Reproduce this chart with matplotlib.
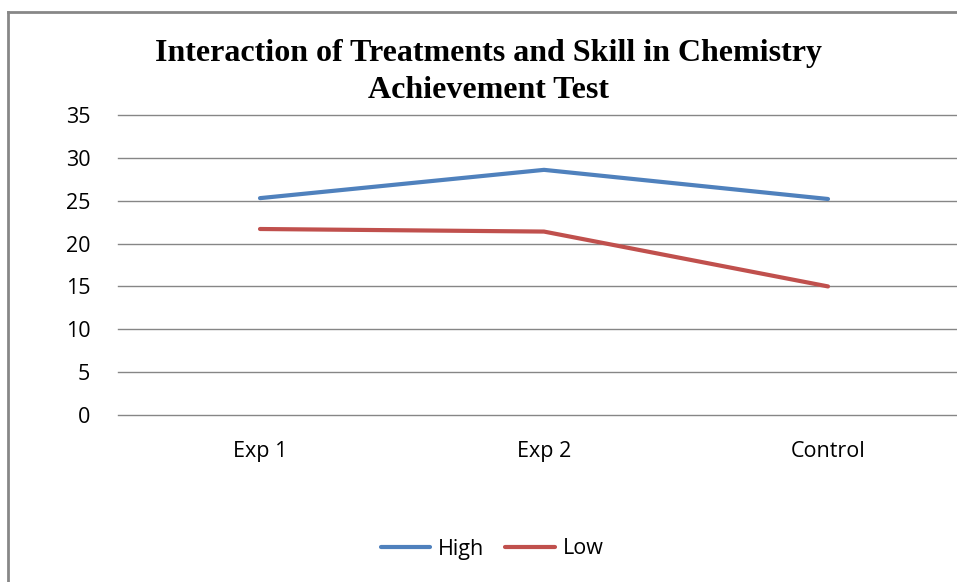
import matplotlib
matplotlib.use("Agg")
import matplotlib.pyplot as plt
from matplotlib.lines import Line2D

categories = ["Exp 1", "Exp 2", "Control"]
high = [25.3, 28.6, 25.2]
low = [21.7, 21.4, 15.0]
yticks = [0, 5, 10, 15, 20, 25, 30, 35]

fig = plt.figure(figsize=(9.57, 5.82), dpi=100)
ax = fig.add_axes([118/957, 1-415/582, 1-118/957, 300/582])

x = list(range(len(categories)))
ax.plot(x, high, color="#4F81BD", lw=3, solid_capstyle="round", label="High")
ax.plot(x, low, color="#C0504D", lw=3, solid_capstyle="round", label="Low")

ax.set_xlim(-0.5, (957-260)/284)
ax.set_ylim(0, 35)
ax.set_yticks(yticks)
ax.set_xticks(x)
ax.set_xticklabels(categories)
ax.yaxis.grid(True, color="#868686", lw=1)
for gl in ax.get_ygridlines():
    gl.set_clip_on(False)
ax.set_axisbelow(True)
for s in ax.spines.values():
    s.set_visible(False)
ax.tick_params(axis="both", length=0, labelsize=15.5, colors="#000000")
ax.tick_params(axis="y", pad=20)
ax.tick_params(axis="x", pad=19)
for lab in ax.get_xticklabels() + ax.get_yticklabels():
    lab.set_fontfamily("Open Sans")

fig.text(488/957, 1-72/582, "Interaction of Treatments and Skill in Chemistry\nAchievement Test",
         ha="center", va="center", fontsize=23, fontweight="bold",
         family="Liberation Serif", linespacing=1.33)

leg = fig.legend(handles=[Line2D([], [], color="#4F81BD", lw=3, solid_capstyle="round"),
                          Line2D([], [], color="#C0504D", lw=3, solid_capstyle="round")],
                 labels=["High", "Low"], loc="center", bbox_to_anchor=(492/957, 1-549/582),
                 ncol=2, frameon=False, prop={"family": "Open Sans", "size": 15.5},
                 handlelength=2.3, columnspacing=1.0, handletextpad=0.35)

# outer border
fig.add_artist(Line2D([8/957, 8/957], [0, 1-12/582], transform=fig.transFigure, color="#878787", lw=2))
fig.add_artist(Line2D([8/957, 1], [1-12/582, 1-12/582], transform=fig.transFigure, color="#878787", lw=2))

fig.savefig("out.png", dpi=100)
